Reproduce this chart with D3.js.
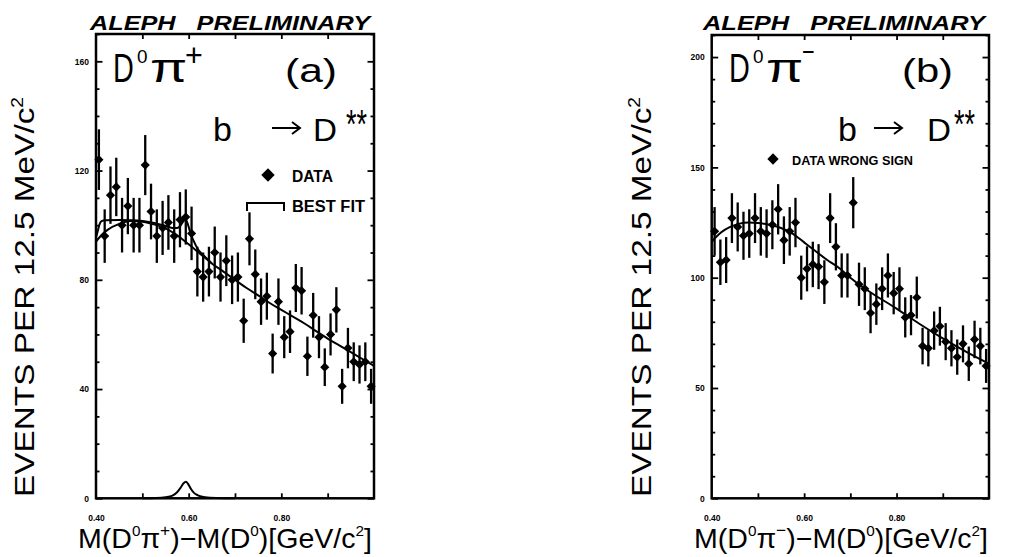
<!DOCTYPE html>
<html>
<head>
<meta charset="utf-8">
<script src="https://cdn.jsdelivr.net/npm/d3@7"></script>
<style>
  body { margin: 0; background: #fff; }
  svg { display: block; }
  text { font-family: "Liberation Sans", Arial, Helvetica, sans-serif; fill: #000; }
</style>
</head>
<body>
<svg id="chart" width="1010" height="557"></svg>
<script>
// ---- histogram bins: M(D0 pi) - M(D0), 12.5 MeV wide, 0.40 .. 1.00 GeV ----
const binCentres = [0.40625, 0.41875, 0.43125, 0.44375, 0.45625, 0.46875, 0.48125, 0.49375,
  0.50625, 0.51875, 0.53125, 0.54375, 0.55625, 0.56875, 0.58125, 0.59375,
  0.60625, 0.61875, 0.63125, 0.64375, 0.65625, 0.66875, 0.68125, 0.69375,
  0.70625, 0.71875, 0.73125, 0.74375, 0.75625, 0.76875, 0.78125, 0.79375,
  0.80625, 0.81875, 0.83125, 0.84375, 0.85625, 0.86875, 0.88125, 0.89375,
  0.90625, 0.91875, 0.93125, 0.94375, 0.95625, 0.96875, 0.98125, 0.99375];

// (a) D0 pi+ (right sign) : events per bin and errors
const countsA = [124, 96, 111, 114, 100, 107, 100, 100, 122, 105, 96, 99, 101, 96, 102, 103,
  97, 83, 81, 83, 90, 81, 87, 80, 81, 65, 95, 82, 72, 74, 53, 72,
  59, 61, 77, 76, 52, 67, 59, 48, 60, 69, 41, 55, 50, 49, 50, 41];
const errorsA = [11.1, 9.8, 10.5, 10.7, 10.0, 10.3, 10.0, 10.0, 11.0, 10.2, 9.8, 9.9, 10.0, 9.8, 10.1, 10.1,
  9.8, 9.1, 9.0, 9.1, 9.5, 9.0, 9.3, 8.9, 9.0, 8.1, 9.7, 9.1, 8.5, 8.6, 7.3, 8.5,
  7.7, 7.8, 8.8, 8.7, 7.2, 8.2, 7.7, 6.9, 7.7, 8.3, 6.4, 7.4, 7.1, 7.0, 7.1, 6.4];

// (a) fit components
const bgAx = [0.400, 0.4125, 0.425, 0.45, 0.475, 0.50, 0.525, 0.55, 0.575, 0.60, 0.625, 0.65, 0.675,
  0.70, 0.725, 0.75, 0.775, 0.80, 0.825, 0.85, 0.875, 0.90, 0.925, 0.95, 0.975, 1.00];
const bgAy = [94, 96.5, 98.3, 100.5, 101.5, 101.3, 100.3, 98.8, 96.3, 93, 89.5, 86, 83,
  80, 77, 74.3, 71.5, 69, 66.5, 64, 61.2, 58.5, 56, 53.5, 51, 48.5];
const totAx = [0.400, 0.404, 0.408, 0.412, 0.42, 0.45, 0.48, 0.50, 0.52, 0.54, 0.555, 0.565, 0.575,
  0.582, 0.588, 0.593, 0.598, 0.604, 0.61, 0.62, 0.63, 0.64, 0.65];
const totAy = [95.5, 98, 100.5, 101.5, 101.8, 101.9, 101.8, 101.5, 101, 100.2, 99.5, 99, 99,
  99.8, 101.3, 102.3, 100.5, 97, 94.5, 91.2, 89.3, 87.6, 86];
const sigAx = [0.50, 0.53, 0.55, 0.565, 0.575, 0.583, 0.589, 0.594, 0.599, 0.605, 0.612, 0.62, 0.635, 0.66, 0.70];
const sigAy = [0, 0.1, 0.4, 1.0, 2.2, 4.0, 5.5, 6.1, 5.2, 3.4, 1.9, 1.1, 0.4, 0.1, 0];

// (b) D0 pi- (wrong sign) : events per bin and errors
const countsB = [121, 107, 108, 127, 123, 119, 120, 127, 121, 120, 124, 131, 117, 121, 125, 100,
  104, 106, 105, 98, 127, 114, 101, 101, 134, 97, 95, 84, 88, 95, 101, 93,
  95, 82, 83, 91, 69, 68, 76, 78, 71, 68, 64, 70, 61, 72, 69, 60];
const errorsB = [11.0, 10.3, 10.4, 11.3, 11.1, 10.9, 11.0, 11.3, 11.0, 11.0, 11.1, 11.4, 10.8, 11.0, 11.2, 10.0,
  10.2, 10.3, 10.2, 9.9, 11.3, 10.7, 10.0, 10.0, 11.6, 9.8, 9.7, 9.2, 9.4, 9.7, 10.0, 9.6,
  9.7, 9.1, 9.1, 9.5, 8.3, 8.2, 8.7, 8.8, 8.4, 8.2, 8.0, 8.4, 7.8, 8.5, 8.3, 7.7];
const fitBx = [0.40, 0.42, 0.44, 0.46, 0.48, 0.50, 0.525, 0.55, 0.575, 0.60, 0.625, 0.65, 0.675,
  0.70, 0.725, 0.75, 0.80, 0.85, 0.90, 0.95, 1.00];
const fitBy = [116.3, 120.5, 123, 124.5, 125, 124.8, 124, 122.5, 120, 116, 112, 108, 104.5,
  100, 96, 92.5, 86, 79, 72.5, 66.5, 61];

// axis ticks and labels
const xDomain = [0.40, 1.00];
const xMinorTicks = [0.5, 0.6, 0.7, 0.8, 0.9];
const xLabelTicks = [0.40, 0.60, 0.80];
const yLabelsA = [0, 40, 80, 120, 160];
const yLabelsB = [0, 50, 100, 150, 200];

const svg = d3.select("#chart");
const zip = (xs, ys) => xs.map((v, i) => [v, ys[i]]);

function fitWidth(sel, w) {
  return sel.attr("textLength", w).attr("lengthAdjust", "spacingAndGlyphs");
}

function drawPanel(cfg) {
  const g = svg.append("g");
  const x = d3.scaleLinear().domain(xDomain).range([cfg.x0, cfg.x1]);
  const y = d3.scaleLinear().domain([0, cfg.yMax]).range([cfg.y1, cfg.y0]);

  const styleAxis = s => {
    s.select(".domain").remove();
    s.selectAll(".tick line").attr("stroke", "#000").attr("stroke-width", 1.8);
    s.selectAll("text").attr("font-family", "'Liberation Sans', Arial, sans-serif")
      .attr("font-weight", "bold").attr("font-size", 8.5).attr("fill", "#000");
    s.attr("font-size", null).attr("font-family", null);
  };

  const minor = d3.range(0, cfg.yMax + 1, 10).filter(v => v % cfg.yMajor !== 0);
  g.append("g").attr("transform", `translate(${cfg.x0},0)`)
    .call(d3.axisLeft(y).tickValues(minor).tickSize(-3.5).tickFormat("")).call(styleAxis);
  g.append("g").attr("transform", `translate(${cfg.x1},0)`)
    .call(d3.axisRight(y).tickValues(minor).tickSize(-3.5).tickFormat("")).call(styleAxis);
  g.append("g").attr("transform", `translate(${cfg.x0},0)`)
    .call(d3.axisLeft(y).tickValues(cfg.yLabels).tickSize(-6.5).tickPadding(7).tickFormat(d3.format("d")))
    .call(styleAxis);
  g.append("g").attr("transform", `translate(${cfg.x1},0)`)
    .call(d3.axisRight(y).tickValues(cfg.yLabels).tickSize(-6.5).tickFormat("")).call(styleAxis);

  g.append("g").attr("transform", `translate(0,${cfg.y1})`)
    .call(d3.axisBottom(x).tickValues(xMinorTicks).tickSize(-5).tickFormat("")).call(styleAxis);
  g.append("g").attr("transform", `translate(0,${cfg.y0})`)
    .call(d3.axisTop(x).tickValues(xMinorTicks).tickSize(-5).tickFormat("")).call(styleAxis);
  g.append("g").attr("transform", `translate(0,${cfg.y1})`)
    .call(d3.axisBottom(x).tickValues(xLabelTicks).tickSize(0).tickPadding(17).tickFormat(d3.format(".2f")))
    .call(styleAxis);

  // frame
  g.append("rect")
    .attr("x", cfg.x0).attr("y", cfg.y0)
    .attr("width", cfg.x1 - cfg.x0).attr("height", cfg.y1 - cfg.y0)
    .attr("fill", "none").attr("stroke", "#000").attr("stroke-width", 2.5);

  // fitted curves
  const line = d3.line().x(d => x(d[0])).y(d => y(d[1])).curve(d3.curveMonotoneX);
  cfg.curves.forEach(c => {
    g.append("path").datum(c).attr("d", line)
      .attr("fill", "none").attr("stroke", "#000").attr("stroke-width", 2);
  });

  // error bars
  const pts = binCentres.map((b, i) => ({ x: b, v: cfg.counts[i], e: cfg.errors[i] }));
  g.append("g").selectAll("line").data(pts).join("line")
    .attr("x1", d => x(d.x)).attr("x2", d => x(d.x))
    .attr("y1", d => y(d.v - d.e)).attr("y2", d => y(d.v + d.e))
    .attr("stroke", "#000").attr("stroke-width", 2.3);

  // markers
  const diamond = d3.symbol().type(d3.symbolSquare).size(42);
  g.append("g").selectAll("path").data(pts).join("path")
    .attr("d", diamond)
    .attr("transform", d => `translate(${x(d.x)},${y(d.v)}) rotate(45)`)
    .attr("fill", "#000");

  return g;
}

// ---------- panel (a) ----------
drawPanel({
  x0: 96, x1: 374, y0: 34, y1: 498.3, yMax: 170, yMajor: 40, yLabels: yLabelsA,
  counts: countsA, errors: errorsA,
  curves: [zip(bgAx, bgAy), zip(totAx, totAy), zip(sigAx, sigAy)]
});

// ---------- panel (b) ----------
drawPanel({
  x0: 711.7, x1: 989, y0: 35, y1: 498.3, yMax: 210, yMajor: 50, yLabels: yLabelsB,
  counts: countsB, errors: errorsB,
  curves: [zip(fitBx, fitBy)]
});

// ---------- titles and annotations ----------
function header(x, w) {
  fitWidth(svg.append("text").attr("x", x).attr("y", 30)
    .attr("font-size", 21).attr("font-weight", "bold").attr("font-style", "italic")
    .style("white-space", "pre").text("ALEPH   PRELIMINARY"), w);
}
header(90, 280);
header(703, 282);

function yTitle(xBase) {
  const t = svg.append("text")
    .attr("transform", `translate(${xBase},497) rotate(-90)`)
    .attr("font-size", 28);
  t.append("tspan").text("EVENTS PER 12.5 MeV/c");
  t.append("tspan").attr("dy", -11).attr("font-size", 16).text("2");
  fitWidth(t, 400);
}
yTitle(34);
yTitle(651);

function xTitle(x0, sign) {
  const t = svg.append("text").attr("x", x0).attr("y", 548).attr("font-size", 28);
  t.append("tspan").text("M(D");
  t.append("tspan").attr("dy", -12).attr("font-size", 15).text("0");
  t.append("tspan").attr("dy", 12).text("\u03c0");
  t.append("tspan").attr("dy", -12).attr("font-size", 17).text(sign);
  t.append("tspan").attr("dy", 12).text(")\u2212M(D");
  t.append("tspan").attr("dy", -12).attr("font-size", 15).text("0");
  t.append("tspan").attr("dy", 12).text(")[GeV/c");
  t.append("tspan").attr("dy", -12).attr("font-size", 15).text("2");
  t.append("tspan").attr("dy", 12).text("]");
  fitWidth(t, 294);
}
xTitle(78, "+");
xTitle(694, "\u2212");

// channel label "D0 pi+/-" in a condensed large face
function channel(ox, sign) {
  svg.append("text").attr("transform", `translate(${ox},82) scale(0.72,1)`)
    .attr("font-size", 40).text("D");
  svg.append("text").attr("transform", `translate(${ox + 24},63) scale(1.05,1)`)
    .attr("font-size", 18).text("0");
  svg.append("text").attr("transform", `translate(${ox + 37},82) scale(1.35,1)`)
    .attr("font-size", 40).text("\u03c0");
  if (sign === "+") {
    svg.append("text").attr("transform", `translate(${ox + 72},66) scale(0.95,1)`)
      .attr("font-size", 32).text("+");
  } else {
    svg.append("text").attr("transform", `translate(${ox + 73},62) scale(0.72,1)`)
      .attr("font-size", 30).text("\u2212");
  }
}
channel(113, "+");
channel(729, "-");

fitWidth(svg.append("text").attr("x", 285).attr("y", 82).attr("font-size", 34).text("(a)"), 52);
fitWidth(svg.append("text").attr("x", 902).attr("y", 82).attr("font-size", 34).text("(b)"), 51);

// "b -> D**" with a drawn arrow
function decay(xb, xa, xd, xs) {
  svg.append("text").attr("x", xb).attr("y", 141).attr("font-size", 34).text("b");
  svg.append("path")
    .attr("d", `M${xa},128H${xa + 28}M${xa + 20},122L${xa + 28},128L${xa + 20},134`)
    .attr("fill", "none").attr("stroke", "#000").attr("stroke-width", 2)
    .attr("stroke-linejoin", "miter");
  fitWidth(svg.append("text").attr("x", xd).attr("y", 141).attr("font-size", 32).text("D"), 24);
  fitWidth(svg.append("text").attr("x", xs).attr("y", 138).attr("font-size", 40).text("**"), 21);
}
decay(213, 272, 313, 346);
decay(838, 874, 927, 954);

// legends
svg.append("path").attr("d", d3.symbol().type(d3.symbolSquare).size(90))
  .attr("transform", "translate(268,175) rotate(45)").attr("fill", "#000");
fitWidth(svg.append("text").attr("x", 292).attr("y", 182).attr("font-size", 16)
  .attr("font-weight", "bold").text("DATA"), 41);
svg.append("path").attr("d", "M247,211V203H284V211")
  .attr("fill", "none").attr("stroke", "#000").attr("stroke-width", 2);
fitWidth(svg.append("text").attr("x", 292).attr("y", 212).attr("font-size", 16)
  .attr("font-weight", "bold").text("BEST FIT"), 73);

svg.append("path").attr("d", d3.symbol().type(d3.symbolSquare).size(64))
  .attr("transform", "translate(773,159) rotate(45)").attr("fill", "#000");
fitWidth(svg.append("text").attr("x", 792).attr("y", 164.5).attr("font-size", 12.5)
  .attr("font-weight", "bold").text("DATA WRONG SIGN"), 121);
</script>
</body>
</html>
